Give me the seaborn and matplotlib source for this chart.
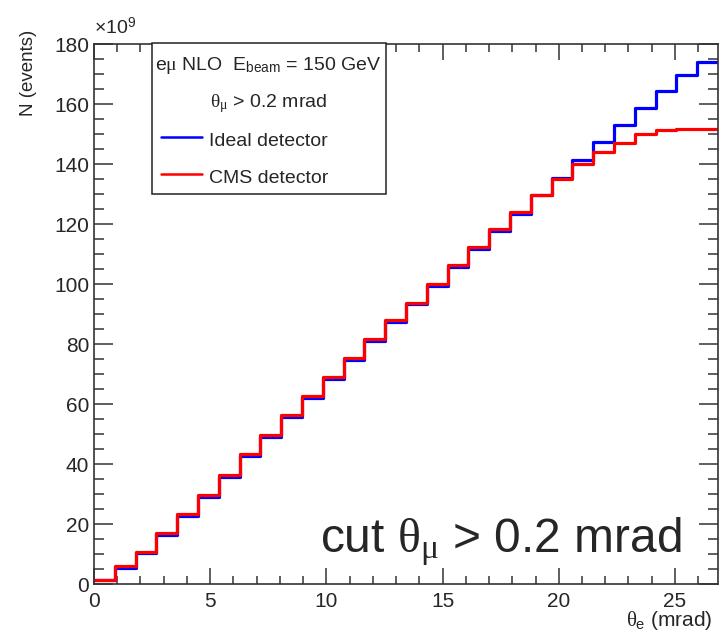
import numpy as np
import pandas as pd
import seaborn as sns
import matplotlib.pyplot as plt
from matplotlib.lines import Line2D
from matplotlib.patches import Rectangle
from matplotlib.ticker import MultipleLocator

# Histogram setup: 30 bins in theta_e (mrad)
n_bins = 30
theta_max = 26.85

# Bin contents (x 10^9 events)
ideal_counts = [1.4, 5.5, 10.2, 16.3, 22.6, 29.1, 35.8, 42.6, 49.1, 55.6,
                62.1, 68.4, 74.6, 81.0, 87.4, 93.2, 99.5, 105.6, 111.7, 117.6,
                123.5, 129.6, 135.4, 141.3, 147.3, 153.0, 158.8, 164.3, 169.6, 174.0]
cms_counts = [1.5, 6.0, 10.8, 16.9, 23.2, 29.7, 36.4, 43.2, 49.7, 56.2,
              62.7, 69.0, 75.2, 81.6, 88.0, 93.8, 100.1, 106.2, 112.3, 118.2,
              124.1, 129.6, 134.9, 139.9, 144.0, 147.1, 149.9, 151.3, 151.8, 151.8]

edges = np.linspace(0, theta_max, n_bins + 1)
centers = 0.5 * (edges[:-1] + edges[1:])
df = pd.DataFrame({
    "theta": np.concatenate([centers, centers]),
    "N": ideal_counts + cms_counts,
    "detector": ["Ideal detector"] * n_bins + ["CMS detector"] * n_bins,
})

sns.set_theme(style="ticks")
plt.rcParams["font.family"] = ["Liberation Sans", "DejaVu Sans"]
plt.rcParams["mathtext.fontset"] = "custom"
plt.rcParams["mathtext.rm"] = "Liberation Sans"
plt.rcParams["mathtext.sf"] = "Liberation Sans"
plt.rcParams["mathtext.it"] = "Liberation Serif"
plt.rcParams["mathtext.bf"] = "Liberation Sans:bold"

fig = plt.figure(figsize=(7.23, 6.4), dpi=100)
ax = fig.add_axes([0.130, 0.0875, 0.863, 0.84375])

# blue first, red on top
for name, col in [("Ideal detector", "blue"), ("CMS detector", "red")]:
    sns.histplot(data=df[df["detector"] == name], x="theta", weights="N",
                 bins=list(edges), element="step", fill=False, color=col,
                 linewidth=2.3, ax=ax)

ax.set_xlim(0, theta_max)
ax.set_ylim(0, 180)

# ROOT-like ticks
ax.set_xticks(range(0, 26, 5))
ax.xaxis.set_minor_locator(MultipleLocator(1))
ax.set_yticks(range(0, 181, 20))
ax.yaxis.set_minor_locator(MultipleLocator(5))
ax.tick_params(which="both", direction="in", top=True, right=True,
               color="#333333", width=1.1, labelsize=15)
ax.tick_params(axis="x", which="major", length=11.5, pad=5.5)
ax.tick_params(axis="x", which="minor", length=5.8)
ax.tick_params(axis="y", which="major", length=13.7, pad=3.5)
ax.tick_params(axis="y", which="minor", length=7)
for sp in ax.spines.values():
    sp.set_color("#333333")
    sp.set_linewidth(1.2)

ax.set_ylabel("N (events)", fontsize=13.5, loc="top")
ax.yaxis.set_label_coords(-0.092, 1.026)
ax.set_xlabel(r"$\theta_{\mathrm{e}}$ (mrad)", fontsize=15, loc="right")
ax.xaxis.set_label_coords(0.992, -0.046)

ax.text(0.0, 1.018, r"$\times$10$^{9}$", transform=ax.transAxes,
        fontsize=14, ha="left", va="baseline")

# Legend box drawn by hand, ROOT TLegend style
ax.add_patch(Rectangle((0.093, 0.722), 0.375, 0.28, transform=ax.transAxes,
                       facecolor="white", edgecolor="#222222", lw=1.1,
                       zorder=5, clip_on=False))
ax.text(0.279, 0.952, r"e$\mu$ NLO  E$_{\mathrm{beam}}$ = 150 GeV",
        transform=ax.transAxes, fontsize=14, ha="center", va="baseline", zorder=6)
ax.text(0.280, 0.883, r"$\theta_{\mu}$ > 0.2 mrad",
        transform=ax.transAxes, fontsize=14, ha="center", va="baseline", zorder=6)
ax.add_line(Line2D([0.107, 0.173], [0.827, 0.827], transform=ax.transAxes,
                   color="blue", lw=1.8, zorder=6))
ax.text(0.184, 0.811, "Ideal detector", transform=ax.transAxes,
        fontsize=14, ha="left", va="baseline", zorder=6)
ax.add_line(Line2D([0.107, 0.173], [0.759, 0.759], transform=ax.transAxes,
                   color="red", lw=1.8, zorder=6))
ax.text(0.184, 0.743, "CMS detector", transform=ax.transAxes,
        fontsize=14, ha="left", va="baseline", zorder=6)

ax.text(0.362, 0.059, r"cut $\theta_{\mu}$ > 0.2 mrad", transform=ax.transAxes,
        fontsize=34.5, ha="left", va="baseline")

fig.savefig("out.png", dpi=100)
